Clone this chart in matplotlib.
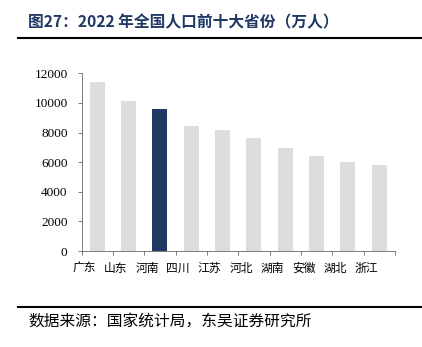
import matplotlib
matplotlib.use("Agg")
import matplotlib.pyplot as plt
from matplotlib.lines import Line2D
from matplotlib.transforms import ScaledTranslation

plt.rcParams['font.family'] = ['Noto Sans CJK SC', 'DejaVu Sans']

provinces = ["广东", "山东", "河南", "四川", "江苏", "河北", "湖南", "安徽", "湖北", "浙江"]
population = [11430, 10130, 9590, 8420, 8150, 7650, 6975, 6415, 6010, 5830]
highlight = "河南"
yticks = [0, 2000, 4000, 6000, 8000, 10000, 12000]

title = "图27：2022 年全国人口前十大省份（万人）"
source = "数据来源：国家统计局，东吴证券研究所"

gray = "#DDDDDD"
navy = "#1F3864"

fig = plt.figure(figsize=(4.22, 3.47), dpi=100)
ax = fig.add_axes([81.5/422, 1 - 251/347, (395 - 81.5)/422, (251 - 73.3)/347])

x = list(range(len(provinces)))
colors = [navy if p == highlight else gray for p in provinces]
ax.bar(x, population, width=0.48, color=colors, zorder=2)

ax.set_xlim(-0.5, len(provinces) - 0.5)
ax.set_ylim(0, 12000)
ax.set_yticks(yticks)
ax.set_yticklabels([str(v) for v in yticks], fontfamily="Liberation Serif", fontsize=9.5)
ax.set_xticks(x)
ax.set_xticklabels(provinces, fontsize=8.5)
ax.tick_params(axis='x', length=0, pad=8)
offset = ScaledTranslation(-13/100, 0, fig.dpi_scale_trans)
for lab in ax.get_xticklabels():
    lab.set_transform(lab.get_transform() + offset)
ax.set_xticks([i + 0.5 for i in range(-1, len(provinces))], minor=True)
ax.tick_params(axis='x', which='minor', length=3, width=0.6, color="#666666", direction='out')
ax.tick_params(axis='y', length=3, width=0.6, color="#666666", direction='out', pad=7)

for s in ["top", "right"]:
    ax.spines[s].set_visible(False)
for s in ["left", "bottom"]:
    ax.spines[s].set_linewidth(0.6)
    ax.spines[s].set_color("#666666")

fig.text(28/422, 1 - 22.5/347, title, fontsize=11.3, fontweight="bold", color=navy,
         va="center", ha="left")
fig.add_artist(Line2D([18/422, 1.0], [1 - 37.7/347, 1 - 37.7/347], color="black", lw=1.5))
fig.add_artist(Line2D([18/422, 1.0], [1 - 307.3/347, 1 - 307.3/347], color="black", lw=1.5))
fig.text(28/422, 1 - 321/347, source, fontsize=11.3, color="black", va="center", ha="left")

fig.savefig("out.png", dpi=100)
